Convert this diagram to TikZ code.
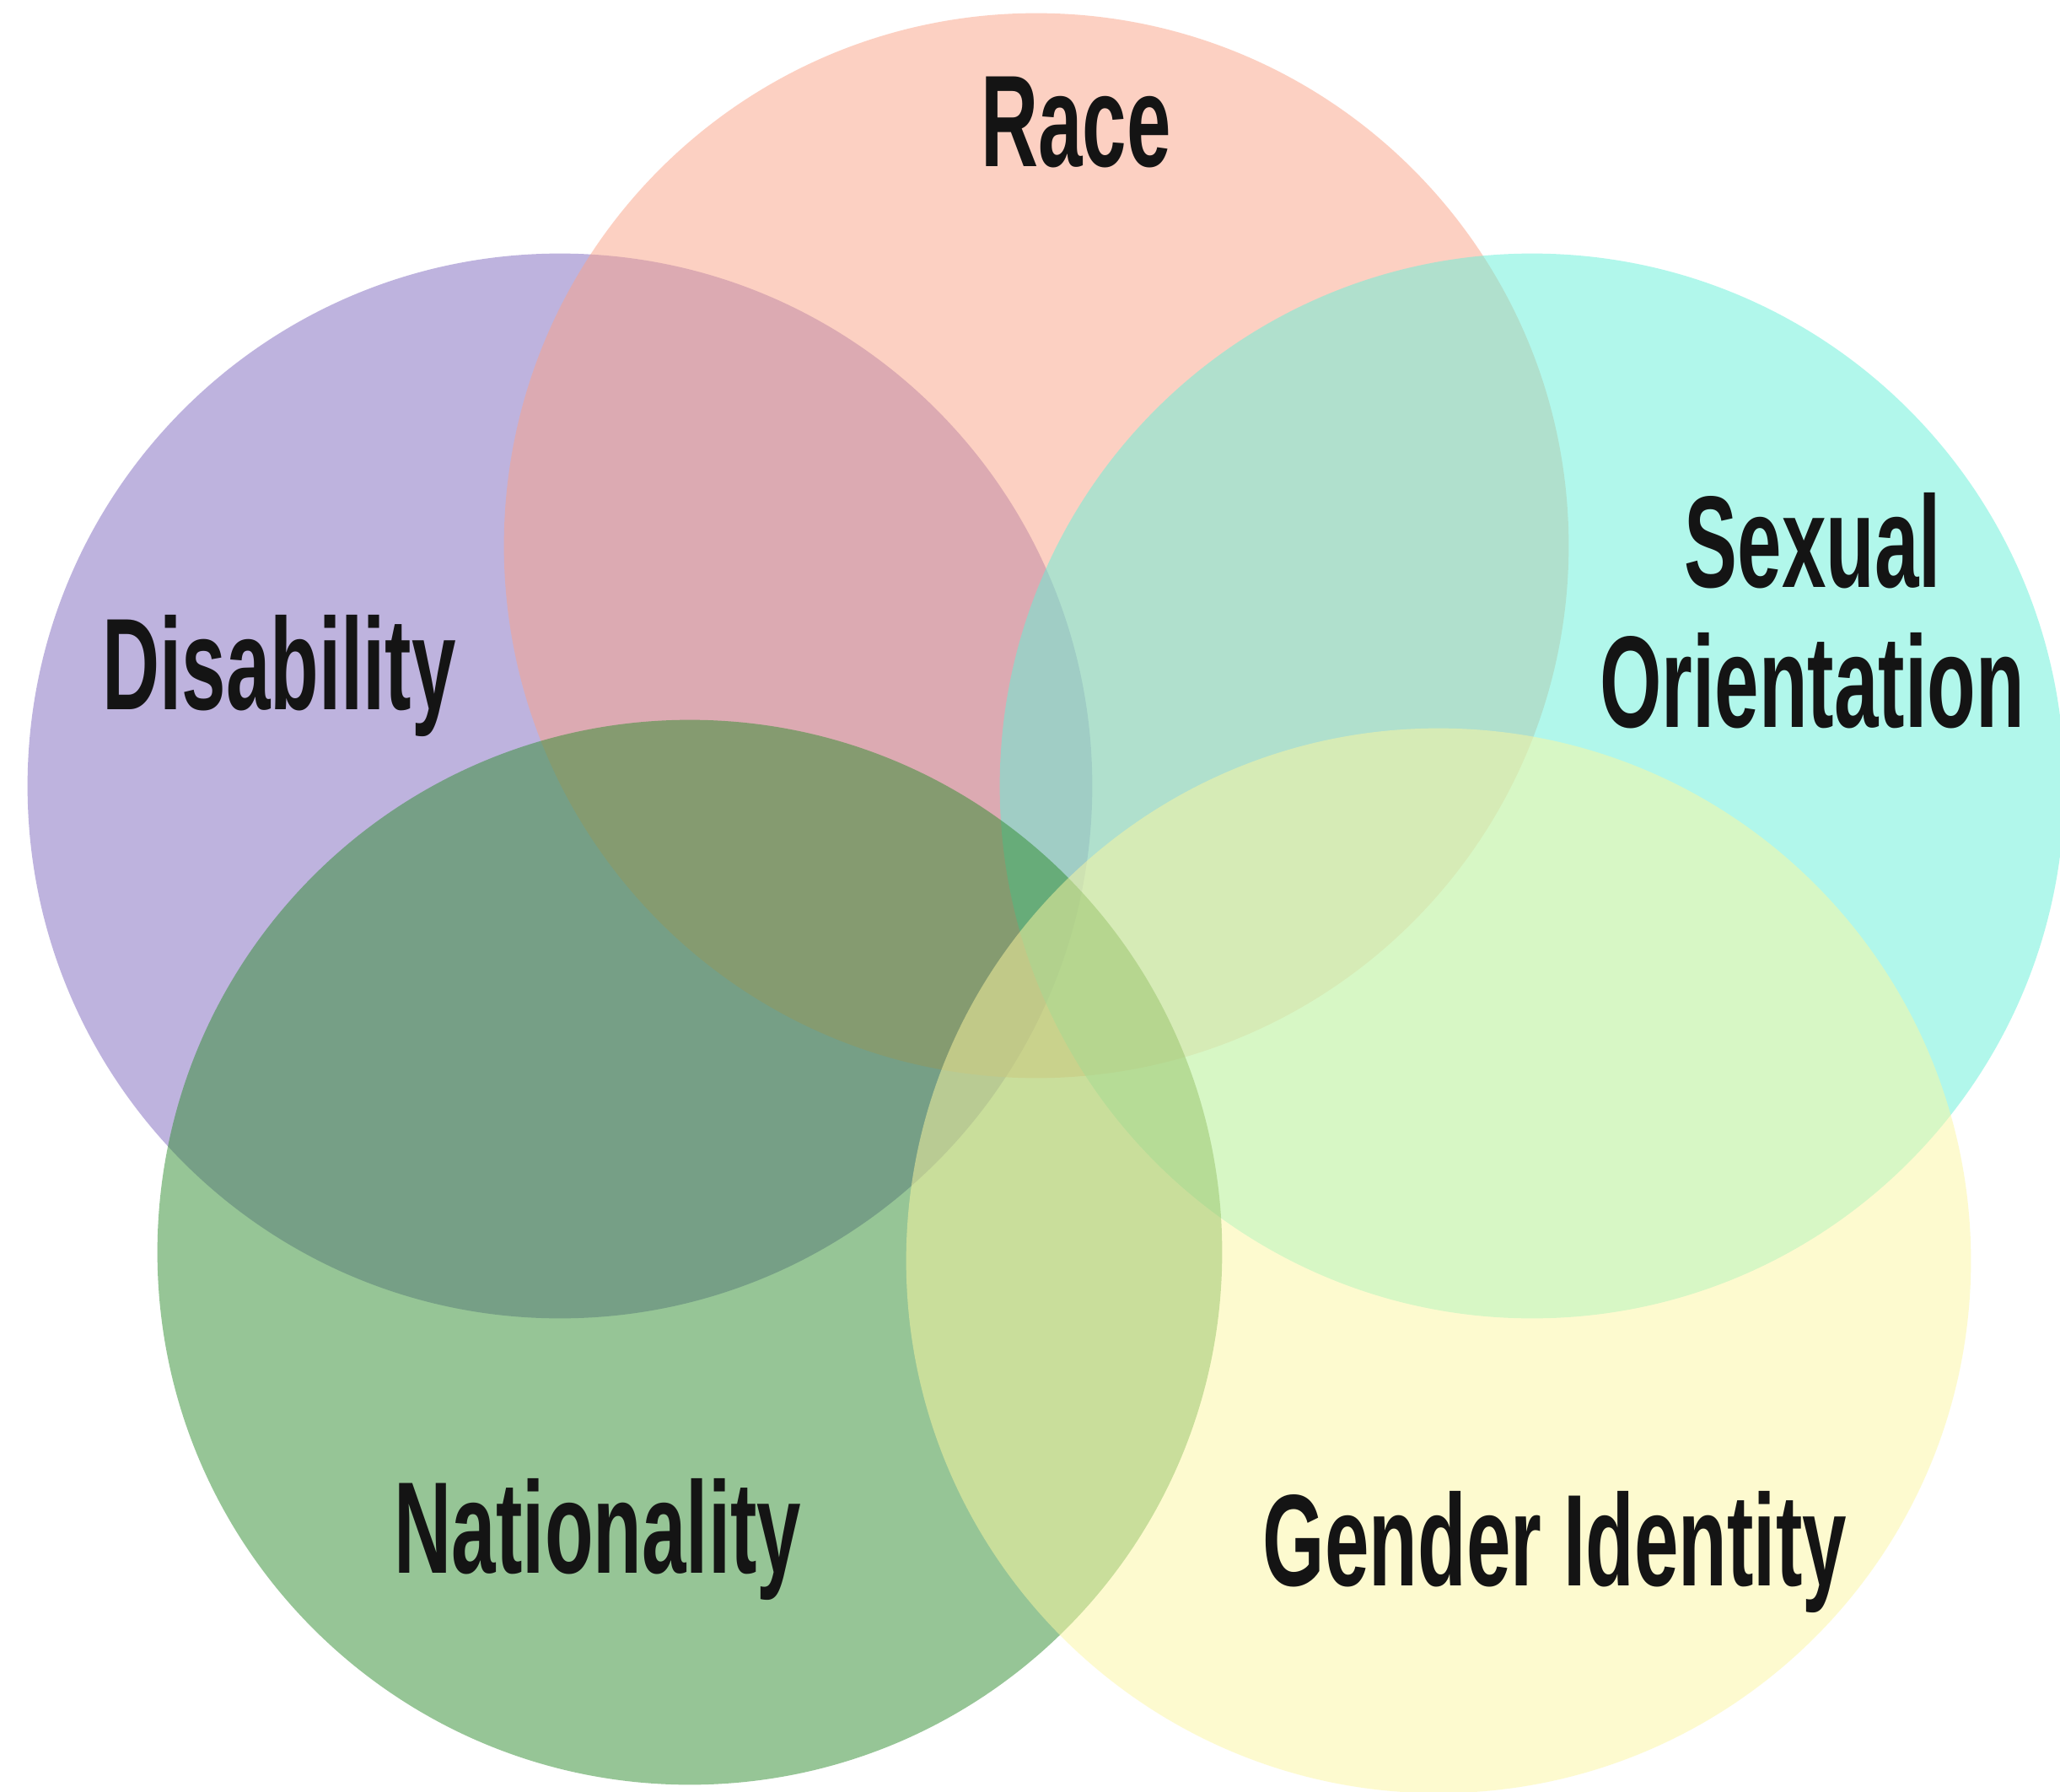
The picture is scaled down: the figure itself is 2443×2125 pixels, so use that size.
\documentclass[tikz,border=0pt]{standalone}
\usepackage{fontspec}
\newfontfamily\lblfont{Liberation Sans}[FakeStretch=0.61]
\definecolor{cDis}{RGB}{127,105,191}
\definecolor{cRace}{RGB}{251,163,135}
\definecolor{cSex}{RGB}{101,241,217}
\definecolor{cNat}{RGB}{47,141,47}
\definecolor{cGen}{RGB}{253,247,161}
\definecolor{ink}{RGB}{20,20,20}
\begin{document}
\begin{tikzpicture}[x=0.01cm,y=-0.01cm,
  blob/.style={fill opacity=0.5},
  lbl/.style={anchor=base,inner sep=0pt,text=ink,
    font=\lblfont\bfseries\fontsize{44}{50}\selectfont}]
\useasboundingbox (0,0) rectangle (2443,2125);
\fill[white] (0,0) rectangle (2443,2125);
% circles (drawing order matters for the blended overlaps)
\fill[blob,cDis]  (664,932)   circle[radius=6.31cm];
\fill[blob,cRace] (1229,647)  circle[radius=6.31cm];
\fill[blob,cSex]  (1817,932)  circle[radius=6.31cm];
\fill[blob,cNat]  (818,1485)  circle[radius=6.31cm];
\fill[blob,cGen]  (1706,1495) circle[radius=6.31cm];
% labels
\node[lbl] (race) at (1276,198)  {Race};
\node[lbl] (dis)  at (331,841)   {Disability};
\node[lbl] (sex1) at (2150,696)  {Sexual};
\node[lbl] (sex2) at (2149,862)  {Orientation};
\node[lbl] (nat)  at (709,1865)  {Nationality};
\node[lbl] (gen)  at (1844,1880) {Gender Identity};
\end{tikzpicture}
\end{document}
